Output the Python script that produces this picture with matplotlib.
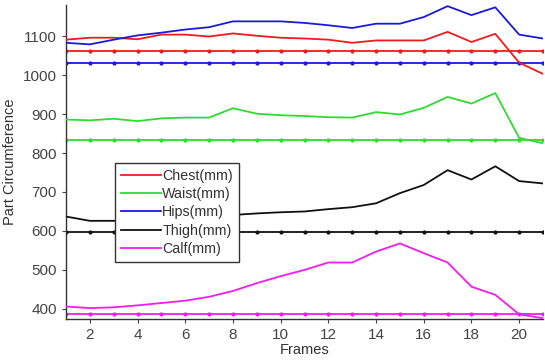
import matplotlib
matplotlib.use("Agg")
import matplotlib.pyplot as plt
import numpy as np

frames = list(range(1, 22))

chest = [1091, 1096, 1096, 1092, 1104, 1104, 1099, 1107, 1101, 1096, 1094,
         1091, 1083, 1089, 1089, 1089, 1111, 1085, 1106, 1032, 1003]
waist = [886, 884, 888, 882, 889, 891, 891, 915, 901, 897, 895,
         892, 891, 905, 899, 916, 944, 927, 954, 839, 825]
hips = [1083, 1079, 1091, 1102, 1109, 1117, 1123, 1138, 1138, 1138, 1134,
        1128, 1121, 1132, 1132, 1149, 1177, 1154, 1174, 1104, 1094]
thigh = [637, 626, 626, 628, 632, 636, 638, 641, 645, 648, 650,
         656, 661, 671, 697, 718, 756, 732, 766, 728, 722]
calf = [406, 402, 404, 409, 415, 421, 431, 446, 466, 484, 500,
        519, 519, 547, 568, 543, 519, 457, 436, 386, 376]

# reference (constant) levels
chest_ref = 1063
waist_ref = 834
hips_ref = 1031
thigh_ref = 598
calf_ref = 386

names = ["Chest(mm)", "Waist(mm)", "Hips(mm)", "Thigh(mm)", "Calf(mm)"]
colors = ["#ee1c1c", "#2edc2e", "#1a1ad8", "#111111", "#f01cf0"]
series = [chest, waist, hips, thigh, calf]
refs = [chest_ref, waist_ref, hips_ref, thigh_ref, calf_ref]

xticks = list(range(2, 21, 2))
yticks = [400, 500, 600, 700, 800, 900, 1000, 1100]

plt.rcParams['font.family'] = ['Liberation Sans', 'DejaVu Sans']

fig = plt.figure(figsize=(5.45, 3.6), dpi=100)
ax = fig.add_axes([66/545, 41/360, 477/545, 314/360])

for name, col, vals, ref in zip(names, colors, series, refs):
    ax.plot(frames, vals, color=col, lw=1.3, label=name, zorder=3)
    ax.plot(frames, [ref]*len(frames), color=col, lw=1.3, marker='.',
            markersize=4, zorder=2)

ax.set_xlim(1, 21)
ax.set_ylim(374, 1180)
ax.set_xticks(xticks)
ax.set_yticks(yticks)
ax.tick_params(labelsize=11, colors='#444444', direction='out', length=3)
for side in ['top', 'right']:
    ax.spines[side].set_visible(False)
for side in ['left', 'bottom']:
    ax.spines[side].set_color('#333333')
    ax.spines[side].set_linewidth(1.0)

ax.set_xlabel("Frames", fontsize=10.5, color='#333333', labelpad=1)
ax.set_ylabel("Part Circumference", fontsize=10.5, color='#333333', labelpad=4)

leg = ax.legend(loc='upper left', bbox_to_anchor=(0.103, 0.497),
                borderaxespad=0, fontsize=10.3, handlelength=2.8,
                handletextpad=0.1, labelspacing=0.3, fancybox=False,
                framealpha=1, edgecolor='#333333', borderpad=0.4)
leg.get_frame().set_linewidth(1.0)
for t in leg.get_texts():
    t.set_color('#333333')

fig.savefig("out.png", dpi=100)
